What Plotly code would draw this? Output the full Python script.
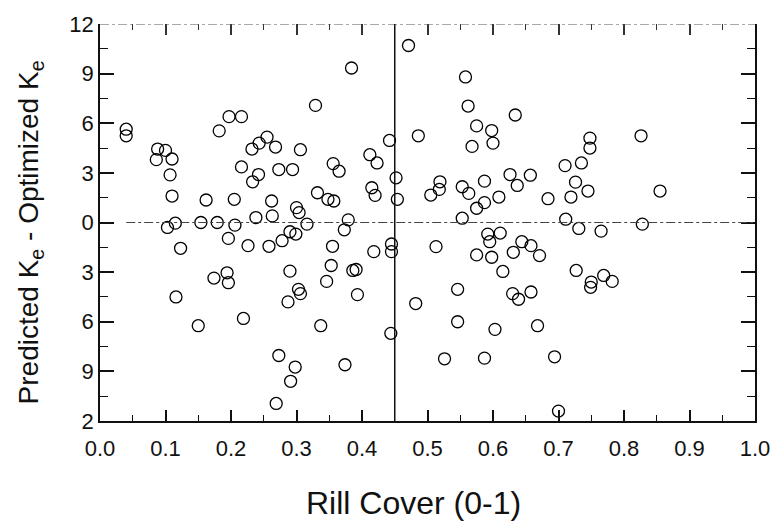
import plotly.graph_objects as go

rill_cover = [0.040,0.040,0.088,0.100,0.086,0.110,0.107,0.110,0.103,0.115,0.123,0.154,0.162,0.179,0.182,0.197,0.216,0.205,0.206,0.196,0.226,0.216,0.232,
0.243,0.255,0.268,0.306,0.242,0.233,0.273,0.294,0.262,0.238,0.263,0.300,0.304,0.316,0.290,0.299,0.278,0.258,0.329,0.384,0.332,0.348,0.357,0.356,0.365,0.379,0.373,0.355,0.412,0.423,0.415,0.420,0.442,0.452,0.454,0.445,0.445,0.418,
0.471,0.486,0.505,0.518,0.519,0.513,0.553,0.563,0.587,0.587,0.575,0.553,0.609,0.558,0.562,0.575,0.568,0.598,0.600,0.592,0.611,0.595,0.575,0.598,
0.634,0.748,0.748,0.826,0.710,0.735,0.626,0.657,0.637,0.726,0.745,0.719,0.684,0.855,0.711,0.731,0.765,0.828,0.644,0.658,0.631,0.671,
0.615,0.727,0.750,0.749,0.769,0.782,0.630,0.639,0.658,0.668,0.694,0.700,
0.290,0.353,0.386,0.391,0.346,0.303,0.306,0.287,0.393,0.482,0.546,0.546,0.603,0.337,0.444,0.273,0.298,0.291,0.374,0.526,0.587,0.269,
0.174,0.194,0.196,0.116,0.150,0.219]

ke_diff = [5.64,5.24,4.44,4.36,3.8,3.84,2.88,1.6,-0.3,-0.04,-1.56,0.0,1.36,0.0,5.54,6.4,6.4,1.4,-0.16,-0.96,-1.4,3.36,4.44,
4.8,5.16,4.56,4.4,2.9,2.46,3.2,3.2,1.3,0.3,0.4,0.9,0.6,-0.1,-0.56,-0.7,-1.1,-1.44,7.08,9.34,1.8,1.4,1.3,3.56,3.1,0.16,-0.44,-1.44,4.1,3.6,2.1,1.64,4.96,2.7,1.4,-1.3,-1.76,-1.76,
10.7,5.24,1.66,2.0,2.46,-1.46,2.16,1.76,2.5,1.2,0.86,0.26,1.54,8.8,7.04,5.84,4.6,5.56,4.8,-0.7,-0.64,-1.16,-1.96,-2.1,
6.5,5.1,4.5,5.24,3.44,3.6,2.9,2.86,2.24,2.44,1.9,1.54,1.44,1.9,0.2,-0.36,-0.52,-0.1,-1.16,-1.4,-1.8,-2.0,
-2.96,-2.9,-3.6,-3.92,-3.2,-3.56,-4.3,-4.64,-4.2,-6.24,-8.12,-11.4,
-2.94,-2.6,-2.9,-2.84,-3.56,-4.04,-4.3,-4.8,-4.36,-4.9,-4.04,-6.0,-6.46,-6.24,-6.7,-8.04,-8.74,-9.6,-8.6,-8.24,-8.2,-10.94,
-3.36,-3.04,-3.64,-4.5,-6.24,-5.8]

x_ticks = [0.0,0.1,0.2,0.3,0.4,0.5,0.6,0.7,0.8,0.9,1.0]
x_ticktext = ["0.0","0.1","0.2","0.3","0.4","0.5","0.6","0.7","0.8","0.9","1.0"]
y_ticks = [12,9,6,3,0,-3,-6,-9,-12]
y_ticktext = ["12","9","6","3","0","3","6","9","2"]
split_x = 0.45
x_title = "Rill Cover (0-1)"
y_title = "Predicted K<sub>e</sub> - Optimized K<sub>e</sub>"

FONT = "Liberation Sans, Arial, Helvetica, sans-serif"

fig = go.Figure()
fig.add_trace(go.Scatter(
    x=rill_cover, y=ke_diff, mode="markers",
    marker=dict(symbol="circle-open", size=12, color="black", line=dict(width=1.3, color="black")),
    showlegend=False, cliponaxis=False,
))
# phantom trace for top axis ticks
fig.add_trace(go.Scatter(x=[0, 1], y=[0, 0], xaxis="x2", mode="markers",
                         marker=dict(opacity=0), showlegend=False, hoverinfo="skip"))

fig.update_layout(
    width=782, height=521,
    margin=dict(l=100, r=22, t=20, b=100),
    paper_bgcolor="white", plot_bgcolor="white",
    font=dict(family=FONT, color="#111", size=18),
    xaxis=dict(
        range=[0, 1], tickvals=x_ticks, ticktext=x_ticktext,
        showgrid=False, zeroline=False, showline=True, linecolor="#111", linewidth=1.5,
        ticks="inside", ticklen=11, tickwidth=1.5, tickcolor="#111",
        minor=dict(ticks="inside", ticklen=6, tickwidth=1.2, dtick=0.05, tick0=0, tickcolor="#111", showgrid=False),
        tickfont=dict(size=22), ticklabelstandoff=7,
    ),
    xaxis2=dict(
        range=[0, 1], overlaying="x", side="top", tickvals=x_ticks, showticklabels=False,
        showgrid=False, zeroline=False, showline=False,
        ticks="inside", ticklen=11, tickwidth=1.5, tickcolor="#333",
        minor=dict(ticks="inside", ticklen=6, tickwidth=1.2, dtick=0.05, tick0=0, tickcolor="#333", showgrid=False),
    ),
    yaxis=dict(
        range=[-12, 12], tickvals=y_ticks, ticktext=y_ticktext,
        showgrid=False, zeroline=False, showline=True, linecolor="#111", linewidth=1.5,
        mirror="ticks",
        ticks="inside", ticklen=14, tickwidth=1.5, tickcolor="#111",
        minor=dict(ticks="inside", ticklen=8, tickwidth=1.2, dtick=1.5, tick0=0, tickcolor="#111", showgrid=False),
        tickfont=dict(size=22),
    ),
    shapes=[
        dict(type="line", xref="x", yref="y", x0=0, x1=1, y0=12, y1=12,
             line=dict(color="#555", width=1.2, dash="dashdot")),
        dict(type="line", xref="x", yref="y", x0=0.04, x1=1, y0=0, y1=0,
             line=dict(color="#444", width=1.2, dash="dashdot")),
        dict(type="line", xref="x", yref="y", x0=split_x, x1=split_x, y0=-12, y1=12,
             line=dict(color="#111", width=1.5)),
    ],
    annotations=[
        dict(text=x_title, xref="paper", yref="paper", x=0.479, y=-0.207,
             xanchor="center", yanchor="middle", showarrow=False,
             font=dict(size=32, family=FONT, color="#111")),
        dict(text=y_title, xref="paper", yref="paper", x=-0.106, y=0.474,
             xanchor="center", yanchor="middle", showarrow=False, textangle=-90,
             font=dict(size=28, family=FONT, color="#111")),
    ],
)

fig.write_html("out.html")
